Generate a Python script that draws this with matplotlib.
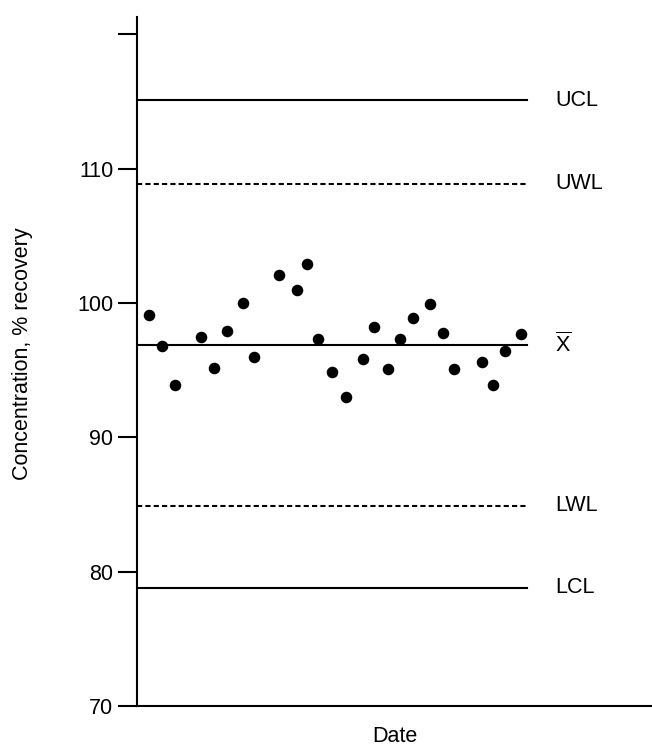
import numpy as np
import matplotlib
matplotlib.use("Agg")
import matplotlib.pyplot as plt

#------------------------------------------------------Data------------------------------------------------------------#

# Sample dates (arbitrary day units along the x axis)
Day = [0.9, 1.95, 2.9, 4.95, 5.9, 6.9, 8.15, 9.0, 10.9, 12.3, 13.1, 13.9, 15.0,
       16.1, 17.4, 18.2, 19.3, 20.2, 21.2, 22.5, 23.5, 24.4, 26.5, 27.4, 28.3, 29.5]

# Measured concentration, % recovery
Recovery = [99.1, 96.8, 93.9, 97.5, 95.2, 97.9, 100.0, 96.0, 102.1, 101.0, 102.9, 97.3, 94.9,
            93.0, 95.8, 98.2, 95.1, 97.3, 98.9, 99.9, 97.8, 95.1, 95.6, 93.9, 96.4, 97.7]

# Control / warning limits
LimitNames = ["UCL", "UWL", r"$\overline{\mathrm{X}}$", "LWL", "LCL"]
LimitValues = [115.1, 108.9, 96.9, 84.9, 78.8]
LimitStyles = ["-", "--", "-", "--", "-"]

YTicks = [70, 80, 90, 100, 110, 120]
YTickLabels = ["70", "80", "90", "100", "110", ""]

#----------------------------------------------------Plotting----------------------------------------------------------#

plt.rcParams["font.family"] = "Liberation Sans"
plt.rcParams["mathtext.fontset"] = "custom"
plt.rcParams["mathtext.rm"] = "Liberation Sans"

FS = 15.5

fig = plt.figure(figsize=[6.52, 7.49], dpi=100)
ax = fig.add_axes([137/652, 43/749, 515/652, 689/749])

line_end = 30
for name, val, ls in zip(LimitNames, LimitValues, LimitStyles):
    if ls == "--":
        ax.plot([0, line_end], [val, val], color="black", lw=1.5, dashes=(2.5, 1.5))
    else:
        ax.plot([0, line_end], [val, val], color="black", lw=1.5)
    ax.text(32.15, val, name, fontsize=FS, ha="left", va="center")

ax.plot(Day, Recovery, "o", color="black", ms=7.3)

ax.set_xlim(0, 39.6)
ax.set_ylim(70, 121.3)
ax.set_yticks(YTicks)
ax.set_yticklabels(YTickLabels, fontsize=FS)
ax.set_xticks([])
ax.tick_params(axis="y", direction="out", length=13.5, width=1.5, pad=3.5)

for s in ["top", "right"]:
    ax.spines[s].set_visible(False)
for s in ["left", "bottom"]:
    ax.spines[s].set_linewidth(1.5)

ax.set_ylabel("Concentration, % recovery", fontsize=FS)
ax.yaxis.set_label_coords(-0.202, 0.511)
ax.set_xlabel("Date", fontsize=FS, labelpad=14.5)

plt.savefig("out.png", dpi=100)
